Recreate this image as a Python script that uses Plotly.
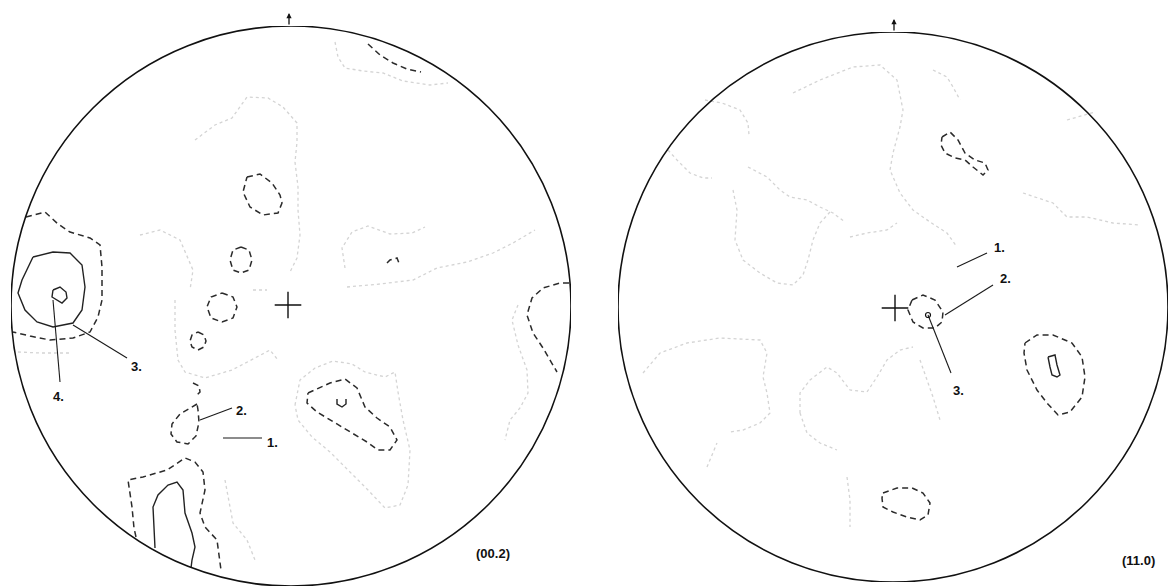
import plotly.graph_objects as go

W, H = 1169, 588

# ---- pole-figure frames (centre and radius in scan units) ----
LEFT_C = (291, 306)
LEFT_R = 280
RIGHT_C = (893, 307)
RIGHT_R = 275

# ---- left pole figure (00.2): contour lines ----
left_level1 = [
    [(195, 140), (215, 125), (232, 118), (247, 97), (268, 98), (283, 107), (297, 123), (297, 142),
     (295, 162), (298, 187), (298, 210), (300, 235), (297, 258), (290, 272)],
    [(335, 42), (338, 57), (345, 68), (363, 71), (383, 73), (403, 81), (430, 85), (448, 83)],
    [(345, 268), (342, 248), (352, 232), (368, 226), (390, 234), (412, 233), (425, 227)],
    [(347, 287), (380, 284), (413, 280), (437, 268), (467, 262), (493, 253), (513, 243), (535, 230)],
    [(518, 305), (512, 320), (518, 345), (527, 370), (528, 393), (520, 408), (510, 420), (505, 440)],
    [(295, 405), (300, 380), (315, 368), (333, 361), (352, 364), (365, 372), (385, 377), (395, 372),
     (398, 392), (403, 420), (410, 450), (408, 485), (400, 505), (385, 508), (368, 490), (348, 470),
     (330, 452), (312, 437), (298, 420), (295, 405)],
    [(175, 300), (175, 330), (178, 360), (185, 372), (205, 378), (232, 370), (255, 358), (270, 350),
     (278, 360)],
    [(140, 235), (160, 230), (180, 240), (193, 270), (190, 290)],
    [(253, 290), (267, 290)],
    [(225, 480), (233, 523), (247, 540), (255, 560)],
    [(18, 352), (40, 353), (70, 353)],
]
left_level2 = [
    [(368, 44), (380, 55), (393, 63), (407, 69), (421, 72)],
    [(247, 177), (260, 174), (272, 183), (280, 195), (282, 203), (278, 213), (263, 215), (250, 207),
     (243, 192), (247, 177)],
    [(26, 217), (45, 212), (58, 224), (70, 232), (90, 238), (100, 245), (102, 267), (102, 300),
     (98, 317), (90, 332), (73, 338), (50, 340), (30, 336), (13, 332)],
    [(241, 247), (249, 250), (252, 260), (249, 270), (241, 273), (233, 270), (230, 260), (233, 250),
     (241, 247)],
    [(222, 293), (233, 297), (237, 307), (233, 318), (222, 322), (211, 318), (207, 307), (211, 297),
     (222, 293)],
    [(198, 332), (204, 335), (206, 341), (204, 347), (198, 350), (192, 347), (190, 341), (192, 335),
     (198, 332)],
    [(193, 383), (199, 386), (200, 392), (196, 396)],
    [(197, 404), (190, 408), (180, 414), (172, 424), (171, 434), (177, 442), (188, 444), (196, 436),
     (199, 422), (198, 410), (197, 404)],
    [(136, 537), (134, 528), (132, 507), (128, 480), (143, 477), (167, 470), (185, 458), (195, 462),
     (203, 472), (205, 490), (200, 513), (205, 527), (217, 540), (220, 560), (221, 570)],
    [(308, 393), (330, 383), (345, 379), (357, 388), (365, 407), (377, 418), (390, 427), (397, 440),
     (390, 450), (378, 450), (367, 442), (350, 432), (333, 422), (317, 412), (307, 403), (308, 393)],
    [(387, 263), (390, 260), (397, 258), (399, 263)],
    [(569, 283), (560, 283), (543, 288), (532, 298), (527, 315), (533, 333), (543, 348), (552, 363),
     (557, 372)],
]
left_level3 = [
    [(33, 257), (53, 252), (70, 253), (82, 265), (85, 287), (82, 310), (73, 323), (53, 327),
     (37, 322), (25, 310), (18, 293), (22, 280), (33, 257)],
    [(155, 548), (153, 507), (158, 495), (168, 485), (177, 482), (183, 490), (185, 513), (192, 533),
     (195, 547), (192, 560), (191, 568)],
]
left_level4 = [
    [(53, 290), (60, 287), (66, 292), (67, 298), (62, 303), (57, 300), (52, 297), (53, 290)],
    [(337, 399), (337, 404), (342, 407), (346, 404), (346, 399)],
]
left_labels = ["1.", "2.", "3.", "4."]
left_label_pos = [(272, 442), (241, 410), (136, 366), (58, 396)]
left_leaders = [
    [(223, 438), (262, 438)],
    [(200, 420), (232, 408)],
    [(73, 325), (127, 358)],
    [(53, 300), (60, 382)],
]
left_centre_mark = (288, 305)
left_title = "(00.2)"
left_title_pos = (493, 553)

# ---- right pole figure (11.0) ----
right_level1 = [
    [(705, 100), (722, 103), (740, 110), (748, 123), (749, 135)],
    [(668, 150), (677, 160), (690, 173), (703, 178), (712, 178)],
    [(748, 167), (767, 177), (780, 190), (790, 197), (807, 200), (820, 207), (833, 213), (845, 222)],
    [(733, 190), (737, 210), (735, 240), (743, 260), (760, 273), (777, 283), (793, 285), (803, 275),
     (808, 260), (813, 240), (820, 223), (830, 212)],
    [(850, 237), (867, 233), (887, 230), (897, 223)],
    [(793, 93), (820, 80), (853, 67), (880, 65), (897, 80), (903, 110), (900, 127), (893, 153),
     (890, 170), (900, 193), (913, 210), (930, 222), (947, 233), (957, 247)],
    [(643, 373), (660, 353), (687, 343), (720, 338), (760, 340), (767, 353), (763, 377), (767, 393),
     (770, 413), (760, 423), (743, 430), (730, 432)],
    [(800, 413), (800, 393), (810, 380), (827, 367), (837, 373), (850, 390), (867, 392), (877, 377),
     (887, 360), (900, 350), (913, 347)],
    [(800, 413), (807, 433), (820, 443), (837, 450)],
    [(920, 360), (927, 380), (933, 397), (940, 420)],
    [(1023, 193), (1053, 203), (1067, 217), (1087, 217), (1113, 223), (1140, 225)],
    [(933, 70), (947, 77), (953, 87), (960, 100)],
    [(847, 477), (850, 500), (850, 527)],
    [(1067, 120), (1080, 116), (1095, 112)],
    [(707, 467), (717, 443)],
]
right_level2 = [
    [(942, 137), (950, 132), (958, 140), (965, 153), (975, 160), (985, 163), (988, 170), (983, 175),
     (973, 167), (965, 160), (955, 158), (945, 153), (941, 145), (942, 137)],
    [(912, 300), (923, 295), (935, 300), (943, 312), (942, 322), (935, 328), (923, 328), (913, 322),
     (908, 310), (912, 300)],
    [(1025, 343), (1037, 335), (1053, 335), (1072, 343), (1082, 357), (1085, 377), (1082, 397),
     (1070, 412), (1058, 415), (1047, 403), (1037, 390), (1027, 370), (1024, 353), (1025, 343)],
    [(883, 493), (897, 488), (912, 488), (923, 493), (930, 503), (928, 515), (920, 520), (907, 517),
     (893, 512), (883, 507), (882, 498), (883, 493)],
]
right_level3 = [
    [(1048, 357), (1055, 355), (1057, 365), (1060, 375), (1057, 377), (1052, 375), (1050, 367),
     (1048, 357)],
]
right_peak = (928, 315)
right_labels = ["1.", "2.", "3."]
right_label_pos = [(999, 248), (1005, 278), (958, 390)]
right_leaders = [
    [(957, 267), (987, 253)],
    [(945, 315), (993, 285)],
    [(928, 315), (951, 373)],
]
right_centre_mark = (895, 308)
right_title = "(11.0)"
right_title_pos = (1138, 560)


def flatten(lines):
    xs, ys = [], []
    for ln in lines:
        for (x, y) in ln:
            xs.append(x)
            ys.append(y)
        xs.append(None)
        ys.append(None)
    return xs, ys


fig = go.Figure()

GREY = dict(color="#d4d4d4", width=1.3, dash="dot")
DASH = dict(color="#2b2b2b", width=1.5, dash="6px,4px")
SOLID = dict(color="#222222", width=1.4)
LEAD = dict(color="#1a1a1a", width=1.1)


def add_figure(xa, ya, l1, l2, l3, leaders, extra_solid=None):
    for lines, style in ((l1, GREY), (l2, DASH), (l3, SOLID), (leaders, LEAD)):
        xs, ys = flatten(lines)
        fig.add_trace(go.Scatter(x=xs, y=ys, mode="lines", line=style, xaxis=xa, yaxis=ya,
                                 hoverinfo="skip"))
    if extra_solid:
        xs, ys = flatten(extra_solid)
        fig.add_trace(go.Scatter(x=xs, y=ys, mode="lines", line=SOLID, xaxis=xa, yaxis=ya,
                                 hoverinfo="skip"))


add_figure("x", "y", left_level1, left_level2, left_level3, left_leaders, left_level4)
add_figure("x2", "y2", right_level1, right_level2, right_level3, right_leaders)

# centre marks
for (cx, cy), xa, ya in ((left_centre_mark, "x", "y"), (right_centre_mark, "x2", "y2")):
    fig.add_trace(go.Scatter(x=[cx], y=[cy], mode="markers", xaxis=xa, yaxis=ya,
                             marker=dict(symbol="cross-thin-open", size=19, color="#111111",
                                         line=dict(color="#111111", width=1.4)),
                             hoverinfo="skip"))
# small peak ring in right figure
fig.add_trace(go.Scatter(x=[right_peak[0]], y=[right_peak[1]], mode="markers", xaxis="x2", yaxis="y2",
                         marker=dict(symbol="circle-open", size=5, color="#111111",
                                     line=dict(color="#111111", width=1.2)),
                         hoverinfo="skip"))

LABEL_FONT = dict(family="Liberation Sans, Arial, sans-serif", size=13, color="#111", weight="bold")
TITLE_FONT = dict(family="Liberation Sans, Arial, sans-serif", size=13, color="#111", weight="bold")

annotations = []
for labels, pos, xr, yr in ((left_labels, left_label_pos, "x", "y"),
                            (right_labels, right_label_pos, "x2", "y2")):
    for t, (px, py) in zip(labels, pos):
        annotations.append(dict(x=px, y=py, xref=xr, yref=yr, text=t, showarrow=False,
                                font=LABEL_FONT))
annotations.append(dict(x=left_title_pos[0], y=left_title_pos[1], xref="x", yref="y",
                        text=left_title, showarrow=False, font=TITLE_FONT))
annotations.append(dict(x=right_title_pos[0], y=right_title_pos[1], xref="x2", yref="y2",
                        text=right_title, showarrow=False, font=TITLE_FONT))

shapes = []
for (cx, cy), r, xr, yr, ax_x in ((LEFT_C, LEFT_R, "x", "y", 289), (RIGHT_C, RIGHT_R, "x2", "y2", 894)):
    shapes.append(dict(type="circle", xref=xr, yref=yr, x0=cx - r, x1=cx + r, y0=cy - r, y1=cy + r,
                       line=dict(color="#111", width=1.6)))
    # north arrow
    annotations.append(dict(x=ax_x, y=cy - r - 13, ax=ax_x, ay=cy - r, xref=xr, yref=yr,
                            axref=xr, ayref=yr, showarrow=True, arrowhead=2, arrowsize=0.8,
                            arrowwidth=1.3, arrowcolor="#111", text=""))


def axis_pair(c, r):
    cx, cy = c
    xd = [(cx - r) / W, (cx + r) / W]
    yd = [1 - (cy + r) / H, 1 - (cy - r) / H]
    xa = dict(range=[cx - r, cx + r], domain=xd, visible=False, fixedrange=True)
    ya = dict(range=[cy + r, cy - r], domain=yd, visible=False, fixedrange=True)
    return xa, ya


xa1, ya1 = axis_pair(LEFT_C, LEFT_R)
xa2, ya2 = axis_pair(RIGHT_C, RIGHT_R)
ya1["anchor"] = "x"
xa1["anchor"] = "y"
xa2["anchor"] = "y2"
ya2["anchor"] = "x2"

fig.update_layout(
    width=W, height=H,
    margin=dict(l=0, r=0, t=0, b=0),
    paper_bgcolor="white", plot_bgcolor="white",
    showlegend=False,
    xaxis=xa1, yaxis=ya1, xaxis2=xa2, yaxis2=ya2,
    shapes=shapes, annotations=annotations,
)

fig.write_html("out.html", config={"displayModeBar": False},
               post_script="document.body.style.margin='0';document.body.style.overflow='hidden';")
